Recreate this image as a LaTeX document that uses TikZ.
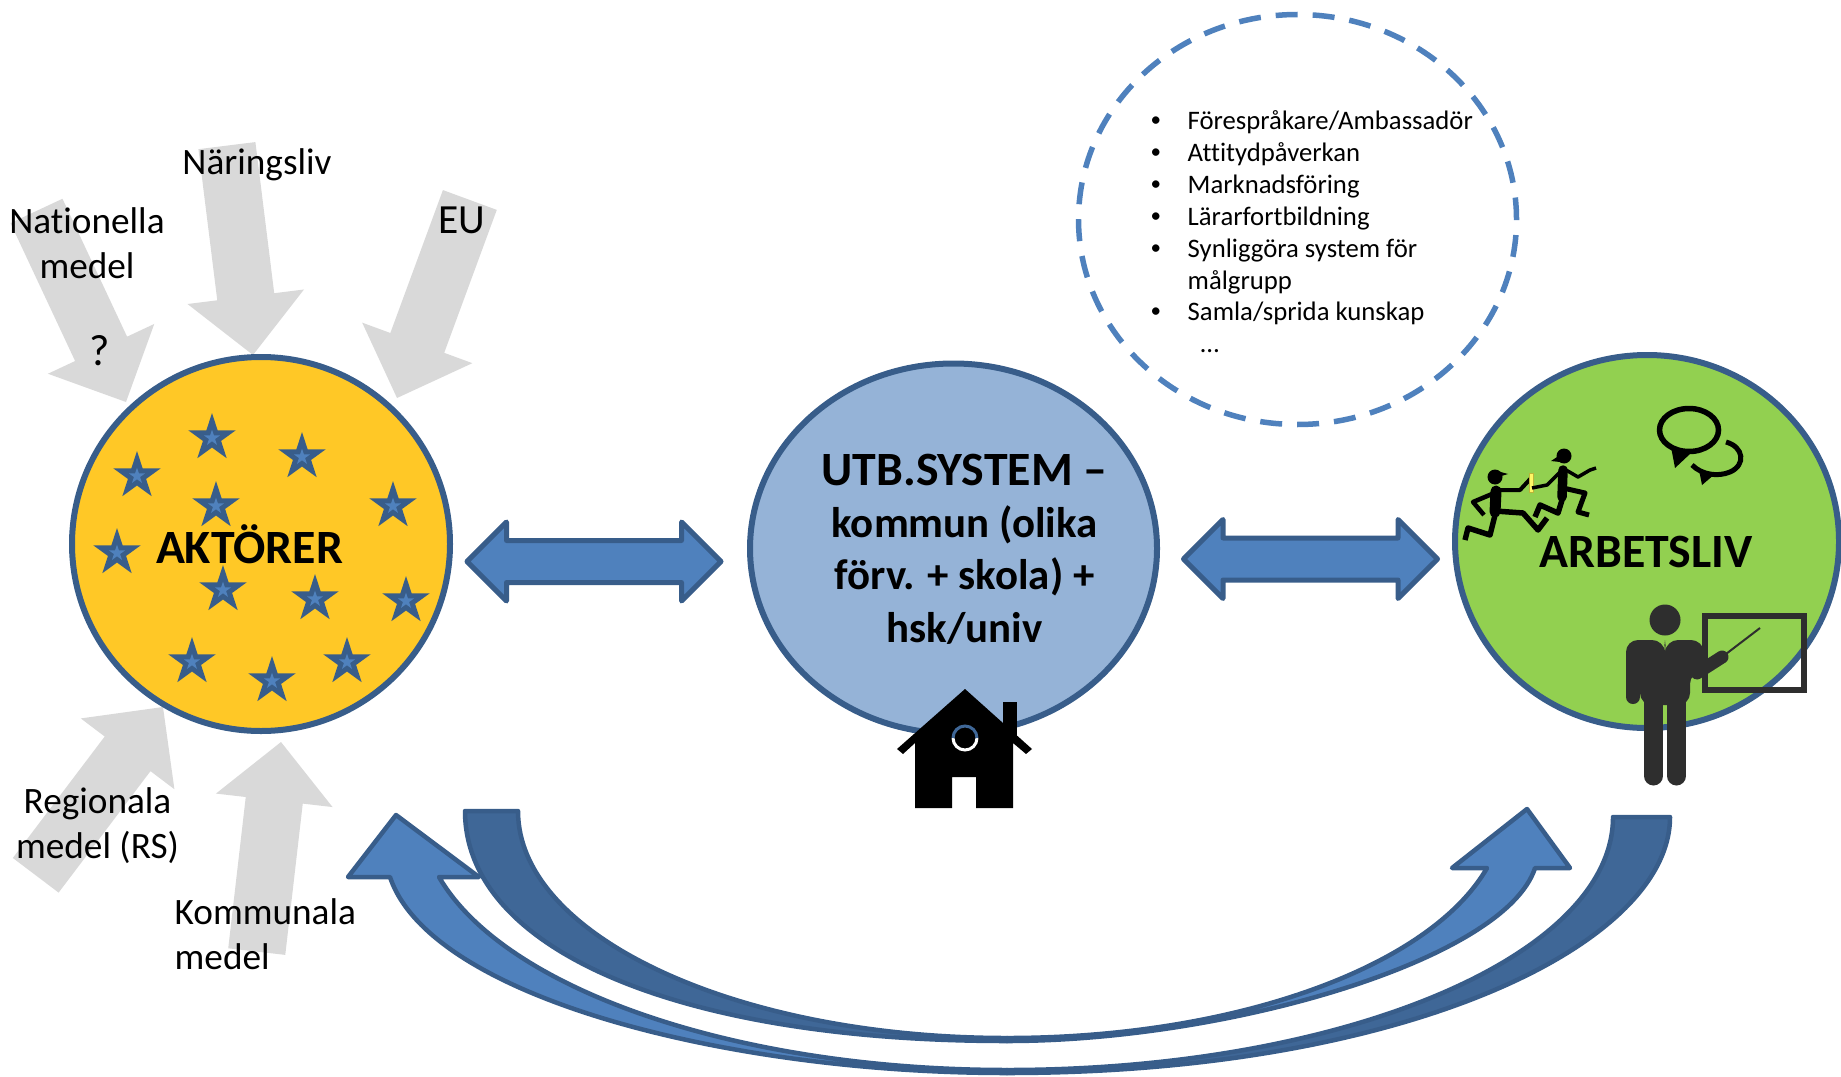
\documentclass[tikz,border=0pt]{standalone}
\usepackage{fontspec}
\setmainfont{Carlito}[Ligatures={TeX,NoCommon}]
\usetikzlibrary{shapes.geometric,shapes.arrows}
\definecolor{edgeblue}{HTML}{385D8A}
\definecolor{fillblue}{HTML}{4F81BD}
\definecolor{darkblue}{HTML}{3F6797}
\definecolor{paleblue}{HTML}{95B3D7}
\definecolor{fundgrey}{HTML}{D9D9D9}
\definecolor{gold}{HTML}{FFC826}
\definecolor{leafgreen}{HTML}{92D050}
\definecolor{slate}{HTML}{2E2E2E}
\newcommand{\listdot}{\raisebox{0.3mm}{\fontsize{6}{9.1}\selectfont •}}

\begin{document}
\begin{tikzpicture}[x=0.1mm,y=-0.1mm]
	\tikzset{fundarrow/.style={single arrow,fill=fundgrey,anchor=tip,inner sep=0pt,outer sep=0pt,inner ysep=2.8mm,single arrow head extend=3mm,minimum height=21.1mm}}
	\tikzset{linkarrow/.style={double arrow,draw=edgeblue,fill=fillblue,line width=0.5mm,line join=round,inner sep=0pt,outer sep=0pt,inner ysep=1.85mm,double arrow head extend=1.85mm,minimum height=25.4mm}}
	\tikzset{bigcircle/.style={ellipse,draw=edgeblue,line width=0.6mm,inner sep=0pt,outer sep=0pt}}
	\tikzset{eustar/.style={star,star points=5,star point ratio=2.618,fill=edgeblue,inner sep=0pt,minimum size=5mm}}
	\tikzset{eucore/.style={star,star points=5,star point ratio=2.618,fill=fillblue,inner sep=0pt,minimum size=1.7mm}}
	\tikzset{plainlabel/.style={font=\fontsize{10.6}{12.8}\selectfont,inner sep=0pt,anchor=base}}
	\tikzset{boldlabel/.style={font=\fontsize{13.6}{16}\selectfont\bfseries,inner sep=0pt,anchor=base}}
	\tikzset{bendarrow/.style={draw=edgeblue,line width=0.45mm,line join=round}}

	\useasboundingbox (0,0) rectangle (1841,1076);

	\draw (126,402) node [fundarrow, rotate=-64.9] (ARnat) {};
	\draw (253,355) node [fundarrow, rotate=-82.9] (ARnar) {};
	\draw (397,398) node [fundarrow, rotate=-110.2] (AReu) {};
	\draw (163,707) node [fundarrow, rotate=52.9] (ARreg) {};
	\draw (281,742) node [fundarrow, rotate=83.4] (ARkom) {};

	\draw (261,544) node [bigcircle, fill=gold, minimum width=37.8mm, minimum height=37.4mm] (AKT) {};
	\draw (953.5,548.5) node [bigcircle, fill=paleblue, minimum width=40.7mm, minimum height=37mm] (UTB) {};
	\draw (1647,541.5) node [bigcircle, fill=leafgreen, minimum width=38.4mm, minimum height=37.3mm] (ARB) {};
	\draw (1297.5,219.5) node [ellipse, draw=fillblue, line width=0.55mm, dash pattern=on 2.2mm off 1.5mm, inner sep=0pt, minimum width=43.8mm, minimum height=41mm] (ROLL) {};

	\foreach \sx/\sy [count=\i] in {212/438,137/476,302/457,216/506,393/506,117/553,223/590,315/599,406/601,192/662,272/681,347/662}
		\draw (\sx,\sy) node [eustar] (STAR\i) {} node [eucore] (CORE\i) {};

	\draw (594,561.5) node [linkarrow] (LINK1) {};
	\draw (1310.5,559) node [linkarrow] (LINK2) {};

	\draw [bendarrow, fill=fillblue] (1007,1041) .. controls (1227,1041) and (1505,960) .. (1535,868) -- (1570,868) -- (1527,809) -- (1452,868) -- (1487,868) arc [start angle=14.93, end angle=90, x radius=496.7, y radius=229] -- cycle;
	\draw [bendarrow, fill=darkblue] (465,811) .. controls (465,949) and (677,1041) .. (1007,1041) -- (1007,1038) arc [start angle=90, end angle=180, x radius=489, y radius=227] -- cycle;
	\draw [bendarrow, fill=fillblue] (1007,1073) .. controls (727,1073) and (430,997) .. (390,877) -- (348,877) -- (396,815) -- (479,877) -- (439,877) arc [start angle=165.75, end angle=90, x radius=586, y radius=256] -- cycle;
	\draw [bendarrow, fill=darkblue] (1670,817) .. controls (1670,944) and (1407,1073) .. (1007,1073) -- (1007,1070) arc [start angle=90, end angle=0, x radius=606, y radius=253] -- cycle;

	\fill (965,689) -- (1032,749) -- (1026,754) -- (1013,743) -- (1013,808) -- (976,808) -- (976,777) -- (952,777) -- (952,808) -- (915,808) -- (915,743) -- (903,754) -- (897,749) -- cycle;
	\fill (1003,702) rectangle (1017,740);
	\draw [white, line width=0.3mm] (977,738) arc [start angle=0, end angle=180, radius=12];
	\draw [darkblue, line width=0.3mm] (977,738) arc [start angle=0, end angle=-180, radius=12];

	\fill [slate] (1665,620) circle [radius=15.5];
	\draw [slate, line width=0.6mm] (1705,616) rectangle (1804,690);
	\draw [slate, line width=0.2mm] (1722,657) -- (1760,628);
	\fill [slate, rounded corners=1.2mm] (1626,670) -- (1626,640) -- (1664,640) -- (1665,652) -- (1666,640) -- (1703,640) -- (1706,670) -- (1690,672) -- (1690,705) -- (1640,705) -- (1640,670) -- cycle;
	\draw [slate, line width=1.4mm, line cap=round] (1633,655) -- (1633,697);
	\draw [slate, line width=1.3mm, line cap=round, line join=round] (1692,648) -- (1697,673) -- (1722,657);
	\draw [slate, line width=1.9mm, line cap=round] (1653.5,695) -- (1653.5,776);
	\draw [slate, line width=1.9mm, line cap=round] (1676.5,695) -- (1676.5,776);

	\fill (1495,477) circle [radius=7.5];
	\fill (1497,471) -- (1508,474) -- (1498,477) -- cycle;
	\draw [line width=1.1mm, line cap=round] (1496,491) -- (1495,512);
	\draw [line width=0.4mm, line join=round] (1496,490) -- (1520,490) -- (1532,477);
	\draw [line width=0.45mm, line join=round] (1492,494) -- (1473,502) -- (1484,515);
	\draw [line width=0.55mm, line join=round] (1495,511) -- (1523,513) -- (1538,530) -- (1547,518);
	\draw [line width=0.55mm, line join=round] (1495,515) -- (1490,535) -- (1468,528) -- (1465,540);
	\draw [yellow!70!black, line width=0.1mm, fill=yellow!60!white] (1529,473) rectangle (1533,492);
	\fill (1564,456) circle [radius=7.5];
	\fill (1560,455) -- (1551,461) -- (1560,462) -- cycle;
	\draw [line width=0.95mm, line cap=round] (1563,470) -- (1562,497);
	\draw [line width=0.35mm, line join=round] (1560,472) -- (1547,485) -- (1532,488);
	\draw [line width=0.35mm, line join=round] (1566,470) -- (1578,477) -- (1590,470) -- (1596,468);
	\draw [line width=0.5mm, line join=round] (1563,488) -- (1585,493) -- (1578,512) -- (1589,515);
	\draw [line width=0.55mm, line join=round] (1562,500) -- (1558,513) -- (1540,505) -- (1535,517);

	\draw [line width=0.55mm] (1689,430) ellipse [x radius=29.5, y radius=21.5];
	\fill (1671,447) -- (1675,468) -- (1691,453) -- cycle;
	\draw [line width=0.5mm] (1726,442) .. controls (1744,447) and (1746,465) .. (1730,472) .. controls (1718,477) and (1702,475) .. (1692,465);
	\fill (1699,470) -- (1702,485) -- (1716,473) -- cycle;

	\draw (257,174) node [plainlabel] (NAR) {Näringsliv};
	\draw (87,278) node [plainlabel, align=center] (NAT) {Nationella\\medel};
	\draw (99.5,365) node [plainlabel, font=\fontsize{12.5}{14}\selectfont] (QUE) {?};
	\draw (461.5,233) node [plainlabel, font=\fontsize{11.8}{14}\selectfont] (EU) {EU};
	\draw (97.5,858) node [plainlabel, align=center] (REG) {Regionala\\medel (RS)};
	\draw (174,969) node [plainlabel, align=left, anchor=base west] (KOM) {Kommunala\\medel};

	\draw (249.5,563) node [boldlabel] (AKTtext) {AKTÖRER};
	\draw (1646,567) node [boldlabel] (ARBtext) {ARBETSLIV};
	\draw (964.5,642) node [boldlabel, font=\fontsize{12.2}{14.8}\selectfont\bfseries, align=center] (UTBtext) {{\fontsize{13.6}{14.8}\selectfont UTB.SYSTEM --}\\kommun (olika\\förv. + skola) +\\hsk/univ};

	\draw (1150,106) node [anchor=north west, inner sep=0pt, font=\fontsize{7.6}{9.1}\selectfont] (LIST) {\begin{tabular}{@{}p{3.7mm}@{}l@{}}
		\listdot&Förespråkare/Ambassadör\\
		\listdot&Attitydpåverkan\\
		\listdot&Marknadsföring\\
		\listdot&Lärarfortbildning\\
		\listdot&Synliggöra system för\\
		&målgrupp\\
		\listdot&Samla/sprida kunskap\\
		&\hspace{1.3mm}…
	\end{tabular}};
\end{tikzpicture}
\end{document}
